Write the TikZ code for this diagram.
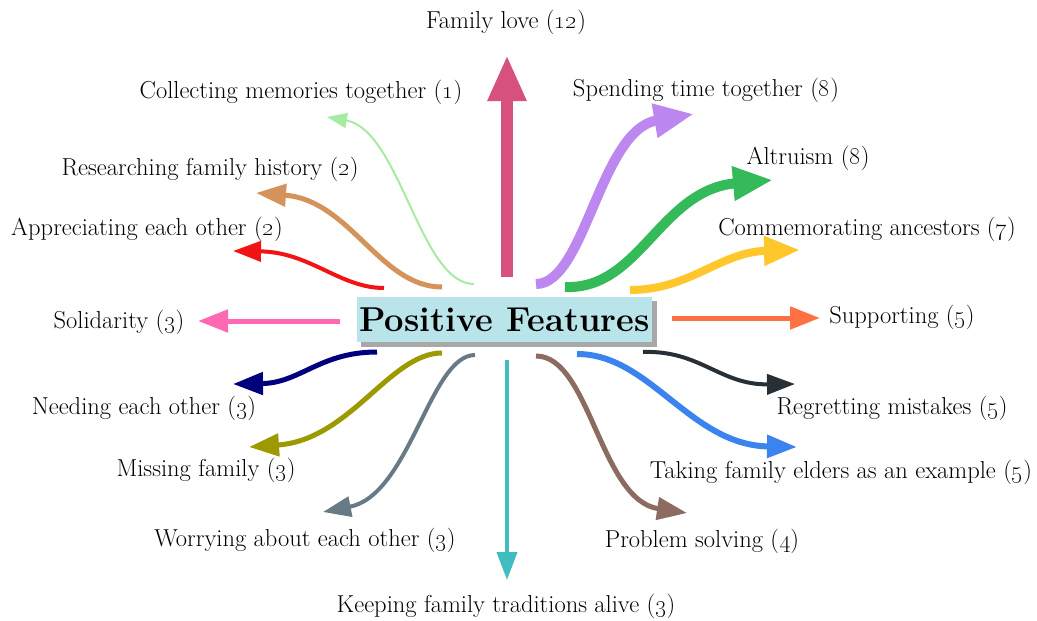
\documentclass[tikz,border=0pt]{standalone}
\usetikzlibrary{arrows.meta}
\definecolor{cLove}{HTML}{D6517D}
\definecolor{cColl}{HTML}{A6EBA0}
\definecolor{cRes}{HTML}{D4935A}
\definecolor{cApp}{HTML}{F21414}
\definecolor{cSol}{HTML}{FF69B4}
\definecolor{cNeed}{HTML}{00007F}
\definecolor{cMiss}{HTML}{9C9A00}
\definecolor{cWorr}{HTML}{687A85}
\definecolor{cKeep}{HTML}{40BDBF}
\definecolor{cProb}{HTML}{8C6C60}
\definecolor{cTake}{HTML}{3B84F0}
\definecolor{cRegr}{HTML}{272F37}
\definecolor{cSupp}{HTML}{FF7043}
\definecolor{cComm}{HTML}{FFC72C}
\definecolor{cAltr}{HTML}{35BA59}
\definecolor{cSpen}{HTML}{BD87F0}
\definecolor{boxfill}{HTML}{B9E4EA}
\definecolor{shadowc}{HTML}{A8A8A8}
\newcommand\cnt[1]{(\oldstylenums{#1})}
\tikzset{
  lbl/.style={inner sep=0pt, font=\fontsize{24.5}{28}\selectfont},
  arrXL/.style={line width=12pt, -{Triangle[length=46pt,width=36pt]}},
  arrL/.style={line width=10pt, -{Triangle[length=40pt,width=32pt]}},
  arrM/.style={line width=8pt, -{Triangle[length=36pt,width=28pt]}},
  arrS/.style={line width=5pt, -{Triangle[length=30pt,width=22pt]}},
  arrT/.style={line width=4pt, -{Triangle[length=28pt,width=20pt]}},
  arrH/.style={line width=2pt, -{Triangle[length=20pt,width=15pt]}},
}
\begin{document}
\begin{tikzpicture}[x=1pt,y=-1pt]
\useasboundingbox (0,0) rectangle (1037,621);
% central box
\fill[shadowc] (361,301) rectangle (657,347);
\node[fill=boxfill, minimum width=295pt, minimum height=45pt, inner sep=0pt,
  font=\fontsize{34.5}{38}\selectfont\bfseries] (pf) at (504.5,319.5) {Positive Features};

% labels
\node[lbl] (lLove) at (506,22) {Family love \cnt{12}};
\node[lbl] (lColl) at (301,92) {Collecting memories together \cnt{1}};
\node[lbl] (lRes) at (210,169) {Researching family history \cnt{2}};
\node[lbl] (lApp) at (147,229) {Appreciating each other \cnt{2}};
\node[lbl] (lSol) at (119,322) {Solidarity \cnt{3}};
\node[lbl] (lNeed) at (144,408) {Needing each other \cnt{3}};
\node[lbl] (lMiss) at (206,470) {Missing family \cnt{3}};
\node[lbl] (lWorr) at (305,540) {Worrying about each other \cnt{3}};
\node[lbl] (lKeep) at (506,606) {Keeping family traditions alive \cnt{3}};
\node[lbl] (lProb) at (702,541) {Problem solving \cnt{4}};
\node[lbl] (lTake) at (841,472) {Taking family elders as an example \cnt{5}};
\node[lbl] (lRegr) at (892,408) {Regretting mistakes \cnt{5}};
\node[lbl] (lSupp) at (902,317) {Supporting \cnt{5}};
\node[lbl] (lComm) at (867,229) {Commemorating ancestors \cnt{7}};
\node[lbl] (lAltr) at (808,158) {Altruism \cnt{8}};
\node[lbl] (lSpen) at (706,90) {Spending time together \cnt{8}};

% start and tip coordinates
\coordinate (sLove) at (507,277);  \coordinate (tLove) at (507,55);
\coordinate (sColl) at (474,284);  \coordinate (tColl) at (327,117);
\coordinate (sRes) at (442,287);   \coordinate (tRes) at (256,193);
\coordinate (sApp) at (384,288);   \coordinate (tApp) at (233,251);
\coordinate (sSol) at (340,321);   \coordinate (tSol) at (198,321);
\coordinate (sNeed) at (377,352);  \coordinate (tNeed) at (233,384);
\coordinate (sMiss) at (442,353);  \coordinate (tMiss) at (249,447);
\coordinate (sWorr) at (475,355);  \coordinate (tWorr) at (323,512);
\coordinate (sKeep) at (507,360);  \coordinate (tKeep) at (507,580);
\coordinate (sProb) at (536,356);  \coordinate (tProb) at (687,513);
\coordinate (sTake) at (577,354);  \coordinate (tTake) at (797,447);
\coordinate (sRegr) at (643,352);  \coordinate (tRegr) at (795,384);
\coordinate (sSupp) at (672,318);  \coordinate (tSupp) at (820,318);
\coordinate (sComm) at (630,290);  \coordinate (tComm) at (800,250);
\coordinate (sAltr) at (565,287);  \coordinate (tAltr) at (773,180);
\coordinate (sSpen) at (536,284);  \coordinate (tSpen) at (694,114);

% arrows
\draw[arrXL, cLove] (sLove) -- (tLove);
\draw[arrH, cColl] (sColl) .. controls (420,284) and (400,130) .. (tColl);
\draw[arrS, cRes] (sRes) .. controls (380,287) and (350,200) .. (tRes);
\draw[arrT, cApp] (sApp) .. controls (340,288) and (310,252) .. (tApp);
\draw[arrS, cSol] (sSol) -- (tSol);
\draw[arrS, cNeed] (sNeed) .. controls (320,352) and (300,383) .. (tNeed);
\draw[arrS, cMiss] (sMiss) .. controls (390,353) and (350,440) .. (tMiss);
\draw[arrT, cWorr] (sWorr) .. controls (430,355) and (410,495) .. (tWorr);
\draw[arrT, cKeep] (sKeep) -- (tKeep);
\draw[arrS, cProb] (sProb) .. controls (590,356) and (600,500) .. (tProb);
\draw[arrS, cTake, line width=6pt] (sTake) .. controls (650,354) and (690,445) .. (tTake);
\draw[arrT, cRegr] (sRegr) .. controls (700,350) and (720,385) .. (tRegr);
\draw[arrS, cSupp] (sSupp) -- (tSupp);
\draw[arrM, cComm] (sComm) .. controls (690,290) and (720,252) .. (tComm);
\draw[arrL, cAltr] (sAltr) .. controls (640,290) and (660,190) .. (tAltr);
\draw[arrL, cSpen] (sSpen) .. controls (585,284) and (600,130) .. (tSpen);
\end{tikzpicture}
\end{document}
